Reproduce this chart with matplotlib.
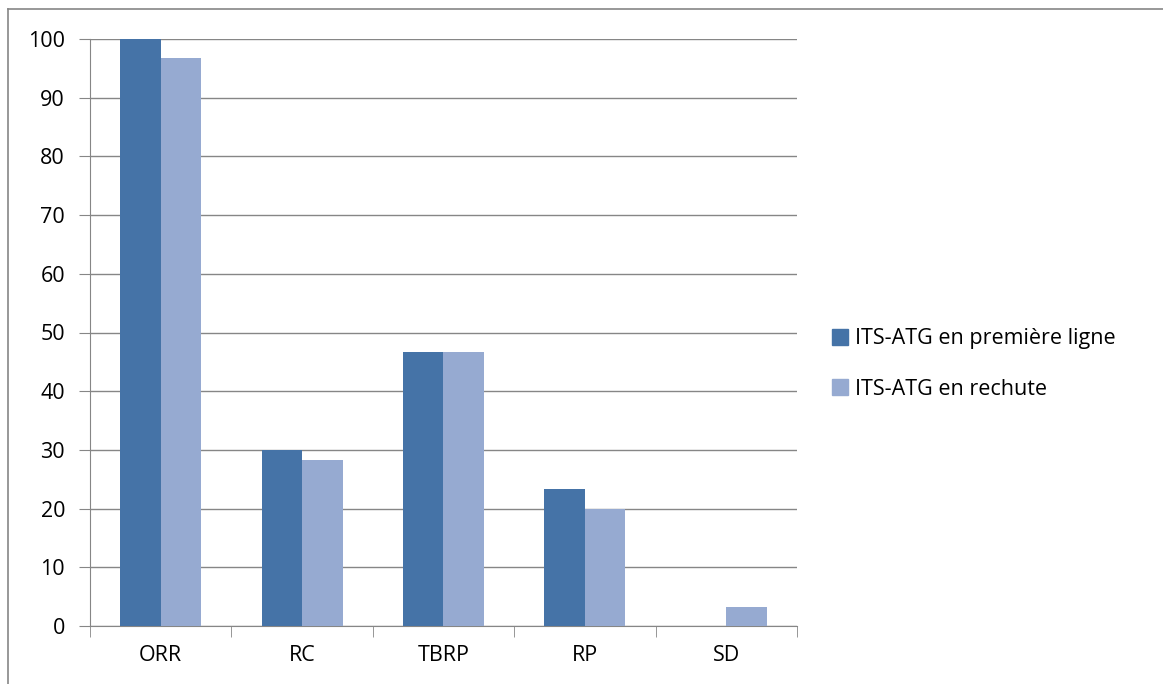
import matplotlib
matplotlib.use("Agg")
import matplotlib.pyplot as plt
import numpy as np
from matplotlib.lines import Line2D
from matplotlib.patches import Patch

categories = ["ORR", "RC", "TBRP", "RP", "SD"]
series_names = ["ITS-ATG en première ligne", "ITS-ATG en rechute"]
first_line = [100, 30, 46.7, 23.3, 0]
relapse = [96.7, 28.3, 46.7, 20, 3.3]
yticks = [0, 10, 20, 30, 40, 50, 60, 70, 80, 90, 100]

colors = ["#4573A7", "#96AAD1"]
grid_c = "#868686"

plt.rcParams['font.family'] = ['Open Sans', 'DejaVu Sans']
FS = 15.5

W, H = 1163, 684
fig = plt.figure(figsize=(W/100, H/100), dpi=100)
ax = fig.add_axes([90/W, 1-626/H, (797-90)/W, (626-39)/H])

x = np.arange(len(categories))
bw = 0.286
ax.bar(x - bw/2, first_line, bw, color=colors[0], zorder=3)
ax.bar(x + bw/2, relapse, bw, color=colors[1], zorder=3)

ax.set_xlim(-0.5, len(categories) - 0.5)
ax.set_ylim(0, 100)
ax.set_yticks(yticks)
ax.set_yticklabels([str(v) for v in yticks], fontsize=FS)
ax.yaxis.grid(True, color=grid_c, linewidth=1, zorder=0)
ax.set_xticks(x)
ax.set_xticklabels(categories, fontsize=FS)
ax.set_xticks(np.arange(-0.5, len(categories)), minor=True)
ax.tick_params(axis='x', which='major', length=0, pad=14)
ax.tick_params(axis='x', which='minor', length=8, color=grid_c, direction='out')
ax.tick_params(axis='y', length=8, color=grid_c, direction='out', pad=10)
for s in ['top', 'right']:
    ax.spines[s].set_visible(False)
ax.spines['left'].set_color(grid_c)
ax.spines['bottom'].set_color(grid_c)

handles = [Patch(color=colors[0], label=series_names[0]),
           Patch(color=colors[1], label=series_names[1])]
fig.legend(handles=handles, loc='center left', bbox_to_anchor=(832/W, 1-364/H),
           frameon=False, fontsize=FS, handlelength=0.75, handleheight=0.75,
           handletextpad=0.3, labelspacing=1.35, borderaxespad=0, borderpad=0)

fig.add_artist(Line2D([8/W, 1], [1-9/H, 1-9/H], color=grid_c, lw=1.2))
fig.add_artist(Line2D([8/W, 8/W], [0, 1-9/H], color=grid_c, lw=1.2))

fig.savefig("out.png", dpi=100)
